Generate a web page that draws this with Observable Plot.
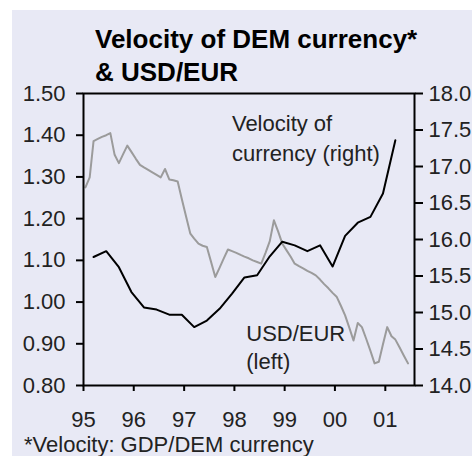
<!DOCTYPE html>
<html>
<head>
<meta charset="utf-8">
<script src="https://cdn.jsdelivr.net/npm/d3@7"></script>
<script src="https://cdn.jsdelivr.net/npm/@observablehq/plot@0.6"></script>
<style>
  html, body { margin: 0; padding: 0; background: #ffffff; width: 472px; height: 456px; overflow: hidden; }
  #panel { position: absolute; left: 12px; top: 10px; width: 460px; height: 446px; background: #e8e9f5; overflow: hidden;
           font-family: "Liberation Sans", Arial, sans-serif; color: #111; }
  #title { position: absolute; left: 83px; top: 12.5px; font-size: 26px; font-weight: bold; line-height: 33px; white-space: nowrap; color: #000; }
  #chart { position: absolute; left: 0; top: 73px; }
  #note { position: absolute; left: 12px; top: 422.5px; font-size: 22px; line-height: 24px; white-space: nowrap; color: #222; }
</style>
</head>
<body>
<div id="panel">
  <div id="title">Velocity of DEM currency*<br>&amp; USD/EUR</div>
  <div id="chart"></div>
  <div id="note">*Velocity: GDP/DEM currency</div>
</div>
<script>
// USD/EUR, monthly from Jan 1995 (left axis)
const usdEurStart = "1995-01-15";
const usdEur = [
  1.275,1.299,1.386,1.391,1.396,1.400,1.405,1.353,1.333,1.354,1.375,1.360,
  1.344,1.329,1.323,1.317,1.311,1.305,1.299,1.319,1.294,1.292,1.289,1.247,
  1.205,1.164,1.152,1.140,1.135,1.132,1.097,1.060,1.082,1.104,1.126,1.122,
  1.118,1.113,1.109,1.105,1.100,1.096,1.092,1.118,1.146,1.196,1.169,1.140,
  1.124,1.108,1.092,1.086,1.081,1.075,1.070,1.064,1.054,1.043,1.033,1.022,
  1.012,0.990,0.968,0.938,0.908,0.950,0.940,0.912,0.883,0.853,0.857,0.899,
  0.940,0.918,0.910,0.891,0.872,0.853
];
// Velocity of DEM currency, quarterly from Q1 1995 (right axis)
const velocityStart = "1995-03-15";
const velocity = [
  15.76,15.84,15.62,15.28,15.07,15.04,14.97,14.97,14.80,14.89,15.05,15.26,
  15.48,15.51,15.77,15.97,15.92,15.84,15.92,15.63,16.05,16.23,16.31,16.63,17.36
];
const yearLabels = ["1995","1996","1997","1998","1999","2000","2001"];
const leftTicks = [0.8,0.9,1.0,1.1,1.2,1.3,1.4,1.5];
const rightTicks = [14.0,14.5,15.0,15.5,16.0,16.5,17.0,17.5,18.0];

const leftDomain = [0.8, 1.5];
const rightDomain = [14, 18];
const toLeft = v => leftDomain[0] + (v - rightDomain[0]) * (leftDomain[1] - leftDomain[0]) / (rightDomain[1] - rightDomain[0]);
const toRight = y => rightDomain[0] + (y - leftDomain[0]) * (rightDomain[1] - rightDomain[0]) / (leftDomain[1] - leftDomain[0]);

const usdData = usdEur.map((v, i) => ({date: d3.utcMonth.offset(new Date(usdEurStart), i), value: v}));
const velData = velocity.map((v, i) => ({date: d3.utcMonth.offset(new Date(velocityStart), 3 * i), value: v}));
const yearTicks = yearLabels.map(y => new Date(y + "-01-01"));

const font = "'Liberation Sans', Arial, sans-serif";
const chart = Plot.plot({
  width: 460,
  height: 350,
  marginLeft: 71,
  marginRight: 58,
  marginTop: 10,
  marginBottom: 48,
  style: {background: "transparent", fontFamily: font, fontSize: "22px", color: "#222", overflow: "visible"},
  x: {type: "utc", domain: [new Date("1995-01-01"), new Date("2001-08-01")]},
  y: {domain: leftDomain},
  marks: [
    Plot.line(usdData, {x: "date", y: "value", stroke: "#9b9b9b", strokeWidth: 2}),
    Plot.line(velData, {x: "date", y: d => toLeft(d.value), stroke: "#000", strokeWidth: 2}),
    Plot.frame({stroke: "#000", strokeWidth: 2}),
    Plot.axisX({ticks: yearTicks, tickFormat: d3.utcFormat("%y"), tickSize: 6, tickPadding: 20, strokeWidth: 2, stroke: "#000", label: null, fontSize: 22}),
    Plot.axisY({ticks: leftTicks, tickFormat: d3.format(".2f"), tickSize: 7, tickPadding: 11, strokeWidth: 2, stroke: "#000", label: null, fontSize: 22}),
    Plot.axisY({anchor: "right", ticks: rightTicks.map(toLeft), tickFormat: d => toRight(d).toFixed(1), tickSize: 8, tickPadding: 6, strokeWidth: 2, stroke: "#000", label: null, fontSize: 22}),
    Plot.text(["Velocity of"], {x: new Date("1997-12-14"), y: 1.4264, text: d => d, textAnchor: "start", fontSize: 22, fill: "#222"}),
    Plot.text(["currency (right)"], {x: new Date("1997-12-14"), y: 1.3562, text: d => d, textAnchor: "start", fontSize: 22, fill: "#222"}),
    Plot.text(["USD/EUR"], {x: new Date("1998-03-28"), y: 0.9247, text: d => d, textAnchor: "start", fontSize: 22, fill: "#222"}),
    Plot.text(["(left)"], {x: new Date("1998-03-28"), y: 0.8563, text: d => d, textAnchor: "start", fontSize: 22, fill: "#222"})
  ]
});
document.getElementById("chart").appendChild(chart);
</script>
</body>
</html>
